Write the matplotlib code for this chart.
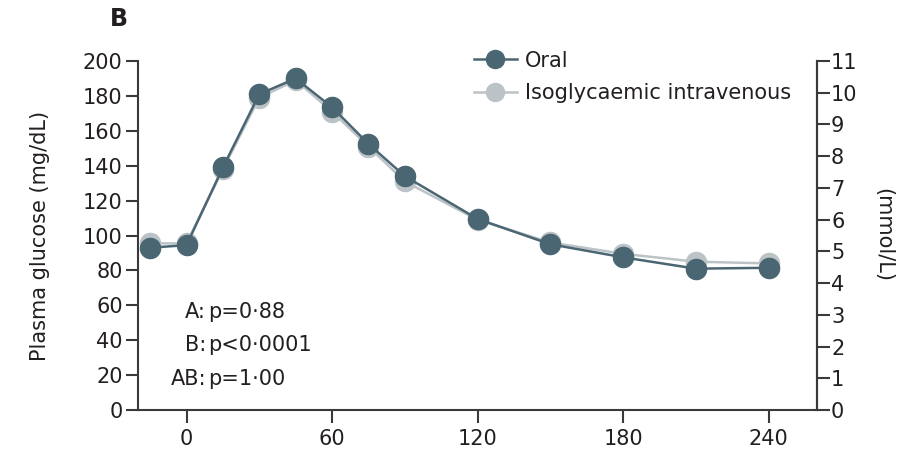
import matplotlib
matplotlib.use("Agg")
import matplotlib.pyplot as plt

plt.rcParams['font.family'] = ['DejaVu Sans']

# Sampling times (min) and plasma glucose (mg/dL)
time_min = [-15, 0, 15, 30, 45, 60, 75, 90, 120, 150, 180, 210, 240]
oral = [93, 94.5, 139, 181, 190, 173.5, 152.5, 134, 109.5, 95, 87.5, 81, 81.5]
intravenous = [95.5, 95.5, 138, 179, 189, 171, 151, 131, 109, 96, 89.5, 85, 84]

x_ticks = [0, 60, 120, 180, 240]
y_ticks = list(range(0, 201, 20))
mmol_ticks = list(range(0, 12))

stats_labels = [("A:", "p=0·88"), ("B:", "p<0·0001"), ("AB:", "p=1·00")]

dark = "#4a6672"
light = "#bcc3c6"
ink = "#231f20"
axis_col = "#3a3a3a"
fs = 15

fig = plt.figure(figsize=(9.14, 4.51), dpi=100)
ax = fig.add_axes([0.151, 0.0909, 0.743, 0.7738])

ax.plot(time_min, intravenous, color=light, lw=1.8, marker='o', ms=14.5,
        mec=light, mfc=light, label="Isoglycaemic intravenous", zorder=2)
ax.plot(time_min, oral, color=dark, lw=1.8, marker='o', ms=14.5,
        mec=dark, mfc=dark, label="Oral", zorder=3)

ax.set_xlim(-20, 260)
ax.set_ylim(0, 200)
ax.set_xticks(x_ticks)
ax.set_yticks(y_ticks)

ax.spines['top'].set_visible(False)
for s in ['left', 'right', 'bottom']:
    ax.spines[s].set_color(axis_col)
    ax.spines[s].set_linewidth(1.5)

ax.tick_params(axis='both', direction='out', length=9, width=1.5,
               color=axis_col, labelsize=fs, labelcolor=ink, pad=2)
ax.tick_params(axis='x', pad=5)

ax.set_ylabel("Plasma glucose (mg/dL)", fontsize=fs, color=ink)
ax.yaxis.set_label_coords(-0.13, 0.5)

ax2 = ax.twinx()
ax2.set_ylim(0, 11)
ax2.set_yticks(mmol_ticks)
for s in ['top', 'left', 'bottom']:
    ax2.spines[s].set_visible(False)
ax2.spines['right'].set_color(axis_col)
ax2.spines['right'].set_linewidth(1.5)
ax2.tick_params(axis='y', direction='out', length=9, width=1.5,
                color=axis_col, labelsize=fs, labelcolor=ink, pad=1)
fig.text(0.966, 0.479, "(mmol/L)", fontsize=fs, color=ink, rotation=270,
         ha='center', va='center')

# Statistics, aligned on the colon
stat_y = [56, 37, 18]
for (lhs, rhs), yy in zip(stats_labels, stat_y):
    ax.text(8.0, yy, lhs, ha='right', va='center', fontsize=fs, color=ink)
    ax.text(9.0, yy, rhs, ha='left', va='center', fontsize=fs, color=ink)

handles, labels = ax.get_legend_handles_labels()
leg = ax.legend(handles[::-1], labels[::-1], loc='upper left',
                bbox_to_anchor=(0.482, 1.054), frameon=False, fontsize=fs,
                handlelength=2.07, handletextpad=0.4, labelspacing=0.62,
                borderaxespad=0)
for t in leg.get_texts():
    t.set_color(ink)
for h in leg.legend_handles:
    h.set_markersize(13)

fig.text(0.12, 0.958, "B", fontsize=17, fontweight='bold', color=ink,
         ha='left', va='center')

fig.savefig("out.png", dpi=100)
